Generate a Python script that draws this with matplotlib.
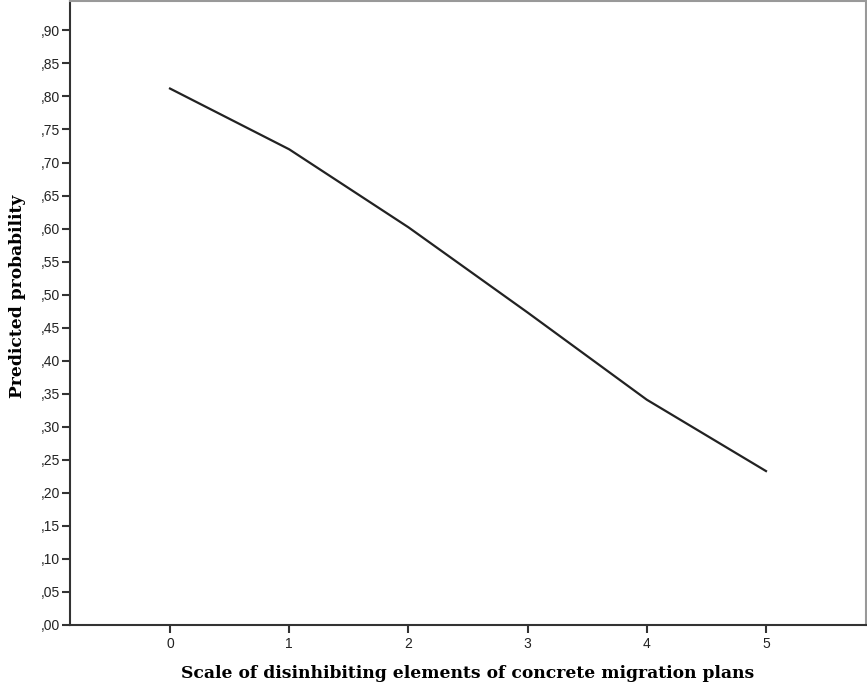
import numpy as np
import matplotlib
matplotlib.use('Agg')
import matplotlib.pyplot as plt
from matplotlib.ticker import FuncFormatter

# values
scale = [0, 1, 2, 3, 4, 5]
prob = [0.812, 0.720, 0.602, 0.473, 0.341, 0.233]
y_ticks = np.arange(0, 0.91, 0.05)

fig = plt.figure(figsize=(8.67, 6.91), dpi=100)
ax = fig.add_axes([70/867, 66/691, 796/867, 624/691])

ax.plot(scale, prob, color='#222222', linewidth=1.6)

ax.set_xlim(-0.839, 5.839)
ax.set_ylim(0, 0.9445)
ax.set_xticks(scale)
ax.set_yticks(y_ticks)
# SPSS style labels: ,05 ,10 ...
ax.yaxis.set_major_formatter(FuncFormatter(lambda v, p: ('%.2f' % v).replace('0.', ',')))

for lab in ax.get_xticklabels() + ax.get_yticklabels():
    lab.set_fontfamily('Liberation Sans')
    lab.set_fontsize(10)
    lab.set_color('#222222')

ax.tick_params(axis='y', direction='out', length=6, width=1.5, color='#333333', pad=1)
ax.tick_params(axis='x', direction='out', length=6, width=1.5, color='#333333', pad=3)

for s in ['left', 'bottom']:
    ax.spines[s].set_color('#333333')
    ax.spines[s].set_linewidth(1.5)
for s in ['top', 'right']:
    ax.spines[s].set_color('#999999')
    ax.spines[s].set_linewidth(1.5)

ax.set_xlabel('Scale of disinhibiting elements of concrete migration plans',
              fontfamily='DejaVu Serif', fontweight='bold', fontsize=12.3)
ax.set_ylabel('Predicted probability',
              fontfamily='DejaVu Serif', fontweight='bold', fontsize=12.3)
ax.xaxis.set_label_coords(0.5, -0.077)
ax.yaxis.set_label_coords(-0.066, 0.527)
ax.xaxis.label.set_va('center')
ax.yaxis.label.set_va('center')

fig.savefig('out.png', dpi=100)
